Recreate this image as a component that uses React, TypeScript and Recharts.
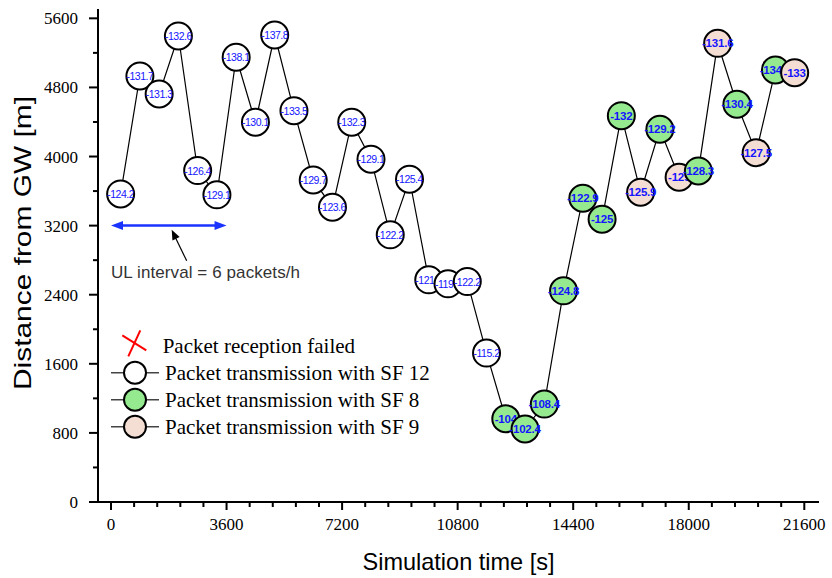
import { ComposedChart, Legend, Line, ReferenceDot, ReferenceLine, XAxis, YAxis } from 'recharts'

// one uplink packet every 600 s
const times = [
  300, 900, 1500, 2100, 2700, 3300, 3900, 4500, 5100, 5700, 6300, 6900,
  7500, 8100, 8700, 9300, 9900, 10500, 11100, 11700, 12300, 12900, 13500, 14100,
  14700, 15300, 15900, 16500, 17100, 17700, 18300, 18900, 19500, 20100, 20700, 21300,
]
const distances = [
  3567, 4932, 4724, 5395, 3837, 3556, 5149, 4397, 5407, 4531, 3729, 3413,
  4397, 3969, 3093, 3737, 2572, 2526, 2552, 1724, 964, 845, 1134, 2445,
  3517, 3274, 4473, 3587, 4316, 3760, 3833, 5311, 4605, 4045, 5002, 4971,
]
const rssi = [
  '-124.2', '-131.7', '-131.3', '-132.6', '-126.4', '-129.1', '-138.1', '-130.1', '-137.8', '-133.5', '-129.7', '-123.6',
  '-132.3', '-129.1', '-122.2', '-125.4', '-121.3', '-119.6', '-122.2', '-115.2', '-104', '-102.4', '-108.4', '-124.8',
  '-122.9', '-125', '-132', '-125.9', '-129.2', '-129', '-128.3', '-131.6', '-130.4', '-127.5', '-134.1', '-133',
]
const spreading = [
  12, 12, 12, 12, 12, 12, 12, 12, 12, 12, 12, 12,
  12, 12, 12, 12, 12, 12, 12, 12, 8, 8, 8, 8,
  8, 8, 8, 9, 8, 9, 8, 9, 8, 9, 8, 9,
]
const failed = [
  false, false, false, false, false, false, false, false, false, false, false, false,
  false, false, false, false, false, false, false, false, false, false, false, false,
  false, false, false, false, false, false, false, false, false, false, true, false,
]

const xTicks = Array.from({ length: 31 }, (_, i) => i * 720)
const yTicks = Array.from({ length: 15 }, (_, i) => i * 400)

const sfFill: Record<number, string> = { 12: '#ffffff', 8: '#95ea90', 9: '#f4ddd3' }
const labelBlue = '#1414ff'

const rows = times.map((t, i) => ({ t, d: distances[i], label: rssi[i], sf: spreading[i], failed: failed[i] }))

const X_DOMAIN: [number, number] = [-405, 22058]
const Y_DOMAIN: [number, number] = [0, 5708]

function XTick(props: any) {
  const { x, y, payload } = props
  const major = payload.value % 3600 === 0
  return (
    <g>
      <line x1={x} x2={x} y1={y} y2={y + (major ? 8 : 5)} stroke="#000" strokeWidth={2} />
      {major && (
        <text x={x} y={y + 28} textAnchor="middle" fontFamily="Liberation Serif" fontSize={17} fill="#000">
          {payload.value}
        </text>
      )}
    </g>
  )
}

function YTick(props: any) {
  const { x, y, payload } = props
  const major = payload.value % 800 === 0
  return (
    <g>
      <line x1={x - (major ? 9 : 5)} x2={x} y1={y} y2={y} stroke="#000" strokeWidth={2} />
      {major && (
        <text x={x - 20} y={y + 6} textAnchor="end" fontFamily="Liberation Serif" fontSize={17} fill="#000">
          {payload.value}
        </text>
      )}
    </g>
  )
}

function TopTick(props: any) {
  const { x, y } = props
  return <line x1={x} x2={x} y1={y} y2={y - 3} stroke="#000" strokeWidth={1.5} />
}

function RightTick(props: any) {
  const { x, y } = props
  return <line x1={x} x2={x + 3} y1={y} y2={y} stroke="#000" strokeWidth={1.5} />
}

function PacketDot(props: any) {
  const { cx, cy, payload, index } = props
  const white = payload.sf === 12
  return (
    <g key={`pkt-${index}`}>
      <circle cx={cx} cy={cy} r={13.5} fill={sfFill[payload.sf]} stroke="#000" strokeWidth={2} />
      <text
        x={cx}
        y={cy + 4}
        textAnchor="middle"
        fontFamily="Liberation Sans"
        fontSize={white ? 10.5 : 11.5}
        fontWeight={white ? 'normal' : 'bold'}
        letterSpacing={white ? -0.5 : -0.2}
        fill={labelBlue}
      >
        {payload.label}
      </text>
    </g>
  )
}

function Cross({ cx, cy }: { cx: number; cy: number }) {
  return (
    <g>
      <line x1={cx + 6} y1={cy - 13} x2={cx - 6} y2={cy + 13} stroke="#ff0000" strokeWidth={2} />
      <line x1={cx - 12} y1={cy - 8} x2={cx + 12} y2={cy + 7} stroke="#ff0000" strokeWidth={2} />
    </g>
  )
}

function arrowHead(x: number, y: number, angle: number, len: number, half: number) {
  const bx = x - len * Math.cos(angle)
  const by = y - len * Math.sin(angle)
  const px = -Math.sin(angle) * half
  const py = Math.cos(angle) * half
  return `${x},${y} ${bx + px},${by + py} ${bx - px},${by - py}`
}

function IntervalArrow(props: any) {
  const { x1, y1, x2, y2 } = props
  const a = Math.atan2(y2 - y1, x2 - x1)
  return (
    <g>
      <line x1={x1 + 8} y1={y1} x2={x2 - 8} y2={y2} stroke="#1a33ff" strokeWidth={2.5} />
      <polygon points={arrowHead(x2, y2, a, 12, 4.5)} fill="#1a33ff" />
      <polygon points={arrowHead(x1, y1, a + Math.PI, 12, 4.5)} fill="#1a33ff" />
    </g>
  )
}

function PointerArrow(props: any) {
  const { x1, y1, x2, y2 } = props
  const a = Math.atan2(y2 - y1, x2 - x1)
  return (
    <g>
      <line x1={x1} y1={y1} x2={x2 - 6 * Math.cos(a)} y2={y2 - 6 * Math.sin(a)} stroke="#000" strokeWidth={1.2} />
      <polygon points={arrowHead(x2, y2, a, 10, 4)} fill="#000" />
    </g>
  )
}

function IntervalNote({ cx, cy }: { cx: number; cy: number }) {
  return (
    <text x={cx} y={cy} fontFamily="Liberation Sans" fontSize={17} fill="#333" textLength={189} lengthAdjust="spacing">
      UL interval = 6 packets/h
    </text>
  )
}

const legendRows = [
  { sf: 12, text: 'Packet transmission with SF 12' },
  { sf: 8, text: 'Packet transmission with SF 8' },
  { sf: 9, text: 'Packet transmission with SF 9' },
]

function LegendBox() {
  return (
    <svg width={330} height={112}>
      <Cross cx={34.3} cy={15.3} />
      <text x={62.7} y={25} fontFamily="Liberation Serif" fontSize={21} fill="#000">
        Packet reception failed
      </text>
      {legendRows.map((r, i) => {
        const cy = 44.7 + i * 27
        return (
          <g key={r.sf}>
            <line x1={11} x2={59} y1={cy} y2={cy} stroke="#444" strokeWidth={1.5} />
            <circle cx={35} cy={cy} r={11} fill={sfFill[r.sf]} stroke="#000" strokeWidth={2} />
            <text x={65} y={cy + 7} fontFamily="Liberation Serif" fontSize={21} fill="#000">
              {r.text}
            </text>
          </g>
        )
      })}
    </svg>
  )
}

function XTitle(props: any) {
  const { viewBox } = props
  return (
    <text
      x={viewBox.x + viewBox.width / 2}
      y={570}
      textAnchor="middle"
      fontFamily="Liberation Sans"
      fontSize={24}
      fill="#000"
      textLength={192}
      lengthAdjust="spacingAndGlyphs"
    >
      Simulation time [s]
    </text>
  )
}

function YTitle() {
  return (
    <text
      x={31}
      y={243}
      transform="rotate(-90 31 243)"
      textAnchor="middle"
      fontFamily="Liberation Sans"
      fontSize={24}
      fill="#000"
      textLength={294}
      lengthAdjust="spacingAndGlyphs"
    >
      Distance from GW [m]
    </text>
  )
}

export default function App() {
  return (
    <div style={{ position: 'fixed', left: 0, top: 0, width: 832, height: 578, background: '#fff' }}>
      <ComposedChart width={832} height={578} data={rows} margin={{ top: 9, right: 13, bottom: 16, left: 0 }}>
        <XAxis
          dataKey="t"
          type="number"
          domain={X_DOMAIN}
          allowDataOverflow
          ticks={xTicks}
          interval={0}
          tick={XTick}
          tickLine={false}
          tickSize={0}
          tickMargin={0}
          height={60}
          axisLine={{ stroke: '#000', strokeWidth: 2 }}
          label={{ content: XTitle }}
        />
        <XAxis
          xAxisId="top"
          orientation="top"
          type="number"
          domain={X_DOMAIN}
          allowDataOverflow
          ticks={xTicks}
          interval={0}
          tick={TopTick}
          tickLine={false}
          tickSize={0}
          tickMargin={0}
          height={0}
          axisLine={{ stroke: '#000', strokeWidth: 2 }}
        />
        <YAxis
          type="number"
          domain={Y_DOMAIN}
          allowDataOverflow
          ticks={yTicks}
          interval={0}
          tick={YTick}
          tickLine={false}
          tickSize={0}
          tickMargin={0}
          width={98}
          axisLine={{ stroke: '#000', strokeWidth: 2 }}
          label={{ content: YTitle }}
        />
        <YAxis
          yAxisId="right"
          orientation="right"
          type="number"
          domain={Y_DOMAIN}
          allowDataOverflow
          ticks={yTicks}
          interval={0}
          tick={RightTick}
          tickLine={false}
          tickSize={0}
          tickMargin={0}
          width={0}
          axisLine={{ stroke: '#000', strokeWidth: 2 }}
        />
        <ReferenceLine
          segment={[{ x: 0, y: 3200 }, { x: 3600, y: 3200 }]}
          shape={IntervalArrow}
        />
        <ReferenceLine
          segment={[{ x: 2358, y: 2792 }, { x: 1891, y: 3151 }]}
          shape={PointerArrow}
        />
        <ReferenceDot x={0} y={2590} r={0} shape={IntervalNote} />
        <Line
          dataKey="d"
          stroke="#000"
          strokeWidth={1.2}
          dot={PacketDot}
          activeDot={false}
          isAnimationActive={false}
        />
        {rows
          .filter((r) => r.failed)
          .map((r) => (
            <ReferenceDot key={r.t} x={r.t} y={r.d} r={0} shape={Cross} />
          ))}
        <Legend
          layout="vertical"
          align="center"
          verticalAlign="middle"
          content={LegendBox}
          wrapperStyle={{ left: 100, top: 328, width: 330, height: 112 }}
        />
      </ComposedChart>
    </div>
  )
}
